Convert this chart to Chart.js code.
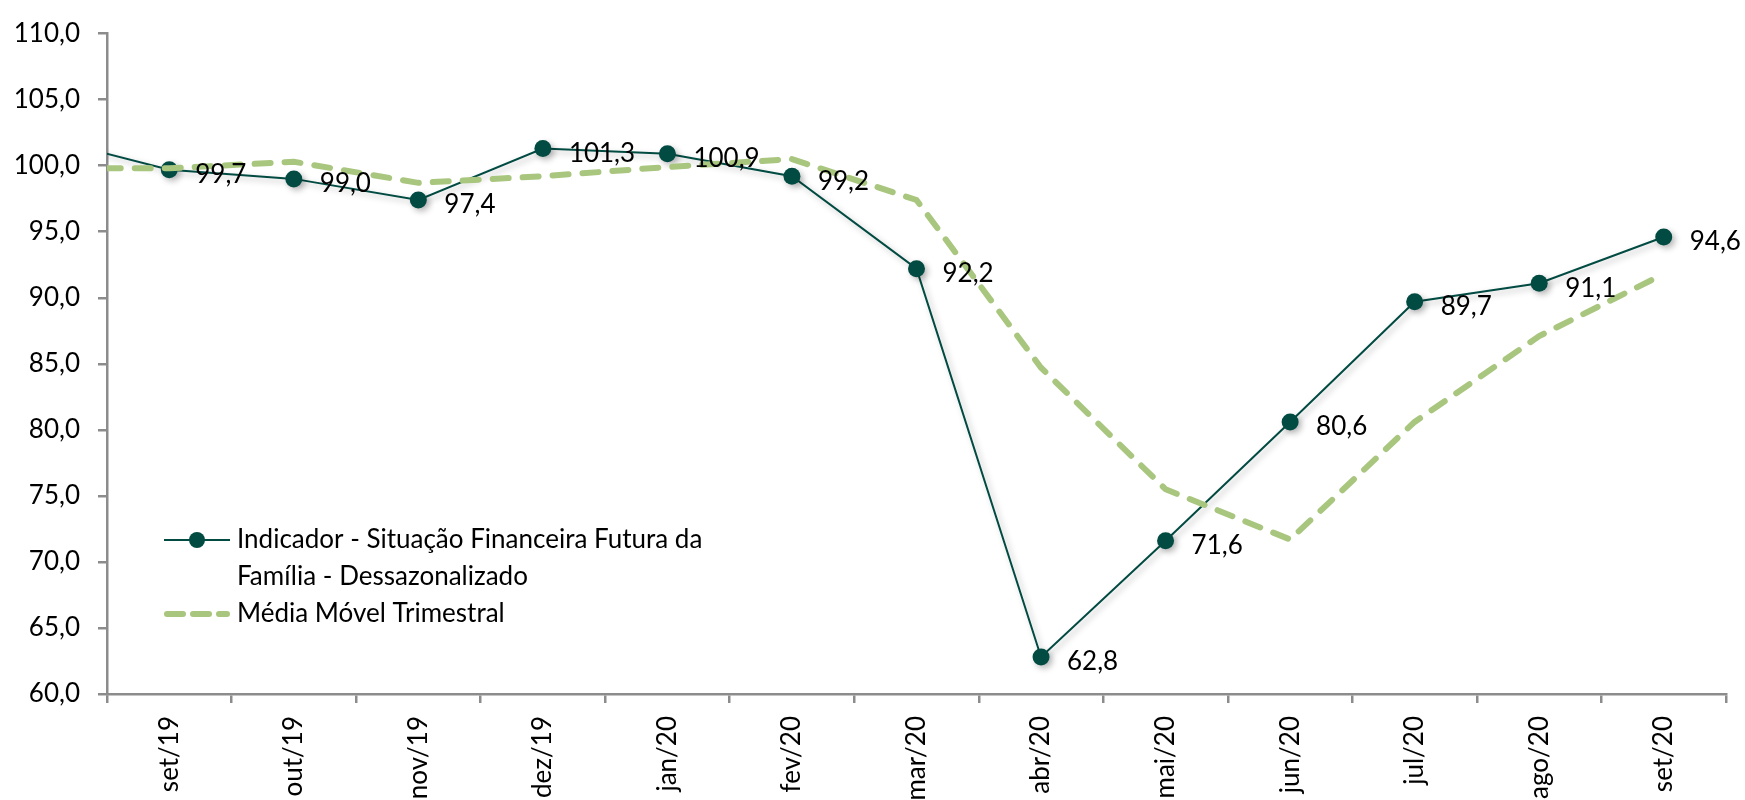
<!DOCTYPE html>
<html>
<head>
<meta charset="utf-8">
<script src="https://cdn.jsdelivr.net/npm/chart.js@4.4.1/dist/chart.umd.min.js"></script>
<style>
  html, body { margin: 0; padding: 0; background: #fff; }
</style>
</head>
<body>
<canvas id="chart" width="1745" height="800"></canvas>
<script>
// ago/19 is kept only so both lines come in from the left edge (it is cut by x.min)
const months = ['ago/19', 'set/19', 'out/19', 'nov/19', 'dez/19', 'jan/20', 'fev/20', 'mar/20',
  'abr/20', 'mai/20', 'jun/20', 'jul/20', 'ago/20', 'set/20'];
const indicador = [102.1, 99.7, 99.0, 97.4, 101.3, 100.9, 99.2, 92.2, 62.8, 71.6, 80.6, 89.7, 91.1, 94.6];
const mediaMovel = [99.8, 99.8, 100.3, 98.7, 99.2, 99.9, 100.5, 97.4, 84.7, 75.5, 71.7, 80.6, 87.1, 91.8];
const yMin = 60;
const yMax = 110;
const yStep = 5;

const DARK = '#024b42';
const GREEN = '#a9c67f';
const AXIS = '#8c8c8c';
const FONT = 'Lato, "Liberation Sans", sans-serif';
const FSIZE = 26;

const fmt = v => v.toFixed(1).replace('.', ',');

// soft shadow under the dark line, like the office chart
const lineShadow = {
  id: 'lineShadow',
  beforeDatasetDraw(chart, args) {
    if (args.index !== 0) return;
    const ctx = chart.ctx;
    ctx.save();
    ctx.shadowColor = 'rgba(0,0,0,0.28)';
    ctx.shadowBlur = 6;
    ctx.shadowOffsetX = 3;
    ctx.shadowOffsetY = 3;
  },
  afterDatasetDraw(chart, args) {
    if (args.index !== 0) return;
    chart.ctx.restore();
  }
};

// value labels to the right of each point
const valueLabels = {
  id: 'valueLabels',
  afterDatasetsDraw(chart) {
    const meta = chart.getDatasetMeta(0);
    const ctx = chart.ctx;
    ctx.save();
    ctx.font = FSIZE + 'px ' + FONT;
    ctx.fillStyle = '#000';
    ctx.textAlign = 'left';
    ctx.textBaseline = 'middle';
    meta.data.forEach((pt, i) => {
      if (i === 0) return;
      ctx.fillText(fmt(indicador[i]), pt.x + 26, pt.y + 5);
    });
    ctx.restore();
  }
};

// legend sits inside the plot, lower left
const insideLegend = {
  id: 'insideLegend',
  afterDraw(chart) {
    const ctx = chart.ctx;
    const x0 = 164, x1 = 230, tx = 237;
    ctx.save();
    ctx.font = FSIZE + 'px ' + FONT;
    ctx.textAlign = 'left';
    ctx.textBaseline = 'middle';

    ctx.strokeStyle = DARK;
    ctx.lineWidth = 2;
    ctx.beginPath();
    ctx.moveTo(x0, 540);
    ctx.lineTo(x1, 540);
    ctx.stroke();
    ctx.fillStyle = DARK;
    ctx.beginPath();
    ctx.arc((x0 + x1) / 2, 540, 8, 0, Math.PI * 2);
    ctx.fill();

    ctx.fillStyle = '#000';
    ctx.fillText('Indicador - Situação Financeira Futura da', tx, 540);
    ctx.fillText('Família - Dessazonalizado', tx, 577);

    ctx.strokeStyle = GREEN;
    ctx.lineWidth = 6;
    ctx.lineCap = 'round';
    ctx.setLineDash([16, 10]);
    ctx.beginPath();
    ctx.moveTo(x0 + 3, 614);
    ctx.lineTo(x1 - 3, 614);
    ctx.stroke();
    ctx.setLineDash([]);
    ctx.fillText('Média Móvel Trimestral', tx, 614);
    ctx.restore();
  }
};

new Chart(document.getElementById('chart'), {
  type: 'line',
  data: {
    labels: months,
    datasets: [
      {
        label: 'Indicador - Situação Financeira Futura da Família - Dessazonalizado',
        data: indicador,
        borderColor: DARK,
        backgroundColor: DARK,
        borderWidth: 2,
        pointRadius: 8.5,
        pointBorderWidth: 0,
        pointBackgroundColor: DARK,
        tension: 0,
        order: 1
      },
      {
        label: 'Média Móvel Trimestral',
        data: mediaMovel,
        borderColor: GREEN,
        borderWidth: 6,
        borderDash: [16, 14],
        borderCapStyle: 'round',
        pointRadius: 0,
        tension: 0,
        order: 0
      }
    ]
  },
  options: {
    responsive: false,
    animation: false,
    layout: { padding: { top: 25, right: 19, left: 0, bottom: 0 } },
    plugins: {
      legend: { display: false },
      tooltip: { enabled: false }
    },
    scales: {
      x: {
        type: 'category',
        min: 'set/19',
        offset: true,
        border: { display: true, color: AXIS, width: 2.5 },
        grid: {
          display: true,
          offset: true,
          drawOnChartArea: false,
          drawTicks: true,
          tickLength: 9,
          color: AXIS,
          lineWidth: 2.5
        },
        ticks: {
          minRotation: 90,
          maxRotation: 90,
          autoSkip: false,
          padding: 13,
          color: '#000',
          font: { family: FONT, size: FSIZE }
        },
        afterFit(s) { s.height = 106; }
      },
      y: {
        min: yMin,
        max: yMax,
        border: { display: true, color: AXIS, width: 2.5 },
        grid: {
          display: true,
          drawOnChartArea: false,
          drawTicks: true,
          tickLength: 9,
          color: AXIS,
          lineWidth: 2.5
        },
        ticks: {
          stepSize: yStep,
          padding: 18,
          color: '#000',
          font: { family: FONT, size: FSIZE },
          callback: v => fmt(v)
        },
        afterFit(s) { s.width = 107; }
      }
    }
  },
  plugins: [lineShadow, valueLabels, insideLegend]
});
</script>
</body>
</html>
